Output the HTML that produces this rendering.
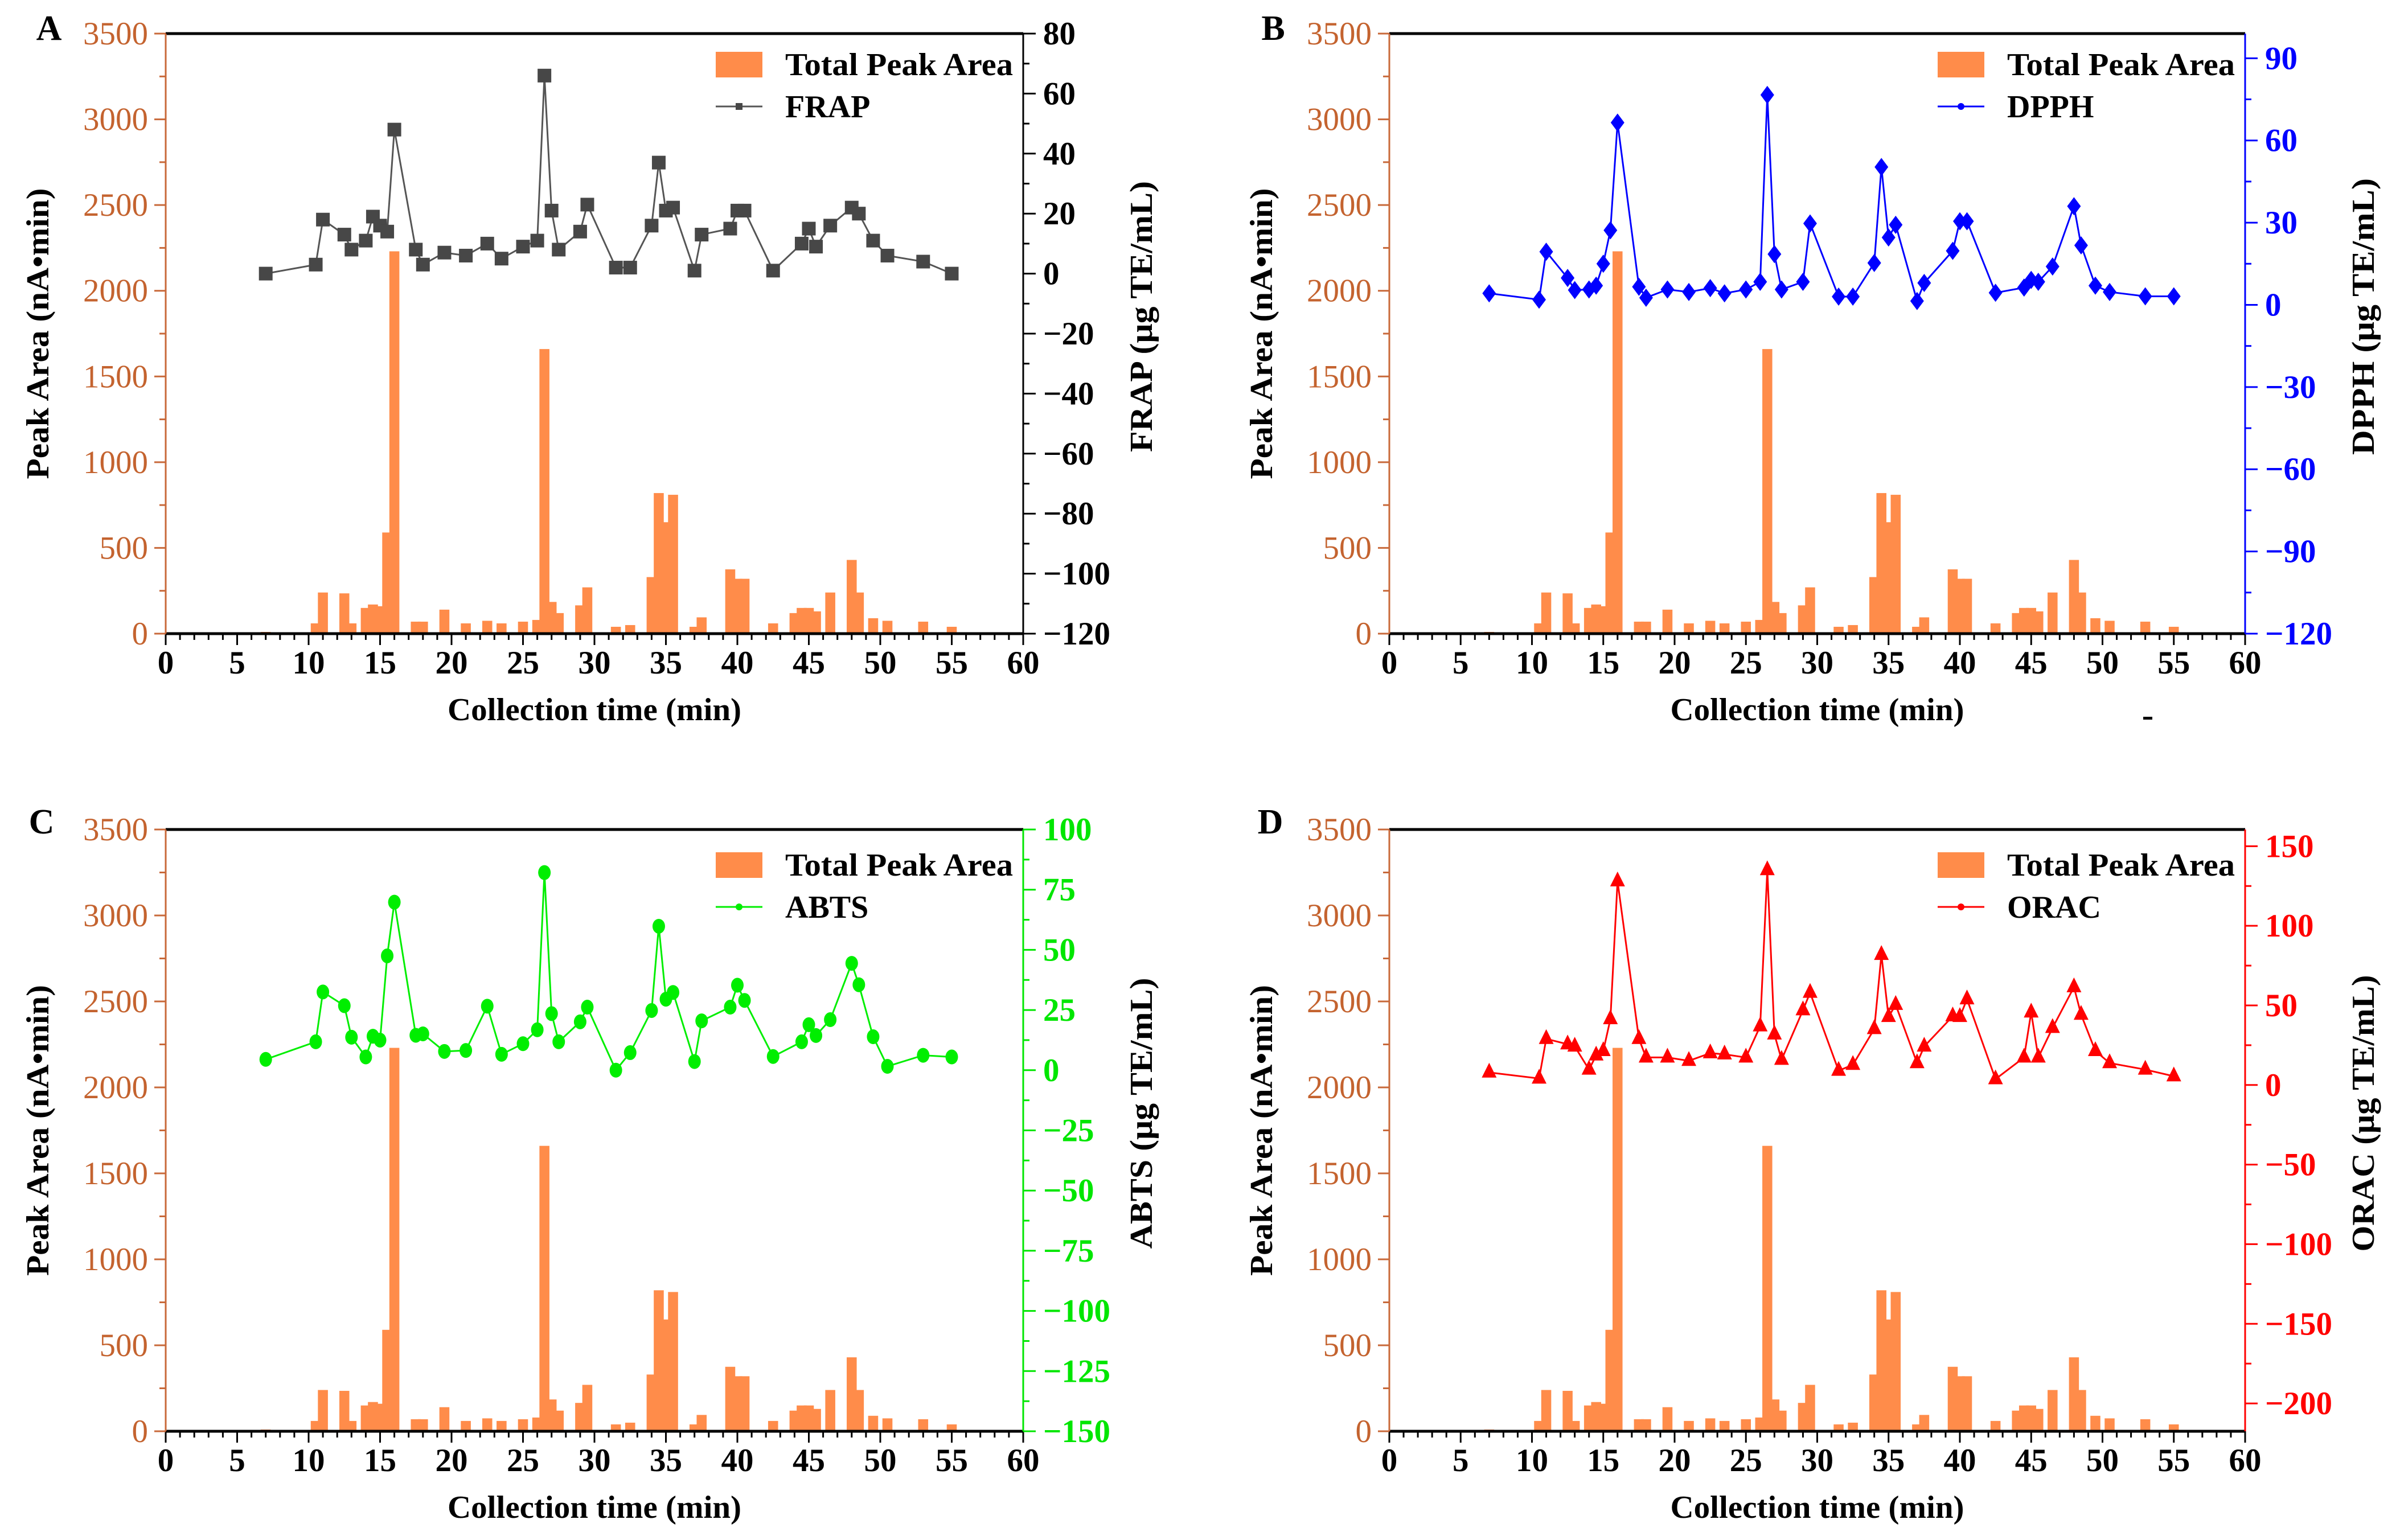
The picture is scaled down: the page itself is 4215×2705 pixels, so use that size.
<!DOCTYPE html>
<html><head><meta charset="utf-8"><style>
html,body{margin:0;padding:0;background:#fff;}
svg{display:block;}
text{font-family:"Liberation Serif",serif;}
</style></head>
<body>
<svg id="fig" width="4215" height="2705" viewBox="0 0 4215 2705" xmlns="http://www.w3.org/2000/svg"></svg>
<script>
// Shared bar data (collection time, total peak area)
const times = [7,10.5,11,12.5,13,14,14.5,15,15.5,16,17.5,18,19.5,21,22.5,23.5,25,26,26.5,27,27.5,29,29.5,31.5,32.5,34,34.5,35,35.5,37,37.5,39.5,40,40.5,42.5,44,44.5,45,45.5,46.5,48,48.5,49.5,50.5,53,55];
const peakArea = [10,60,240,235,60,150,170,160,590,2230,70,70,140,60,75,60,70,80,1660,185,120,165,270,40,50,330,820,650,810,40,95,375,320,320,60,120,150,150,130,240,430,240,90,75,70,40];
// Assay sampling times
const assayTimes = [7,10.5,11,12.5,13,14,14.5,15,15.5,16,17.5,18,19.5,21,22.5,23.5,25,26,26.5,27,27.5,29,29.5,31.5,32.5,34,34.5,35,35.5,37,37.5,39.5,40,40.5,42.5,44.5,45,45.5,46.5,48,48.5,49.5,50.5,53,55];
const frap = [0,3,18,13,8,11,19,16,14,48,8,3,7,6,10,5,9,11,66,21,8,14,23,2,2,16,37,21,22,1,13,15,21,21,1,10,15,9,16,22,20,11,6,4,0];
const dpph = [4.2,1.9,19.4,9.8,5.4,5.6,7,15,27.2,66.5,6.6,2.6,5.6,4.7,6.1,4.2,5.6,8.4,76.6,18.5,5.6,8.4,29.7,3,3,15.3,50.3,24.6,29.2,1.4,8,19.7,30.5,30.5,4.4,6.3,9.1,8.4,14,36,21.7,7,4.7,3.1,3.1];
const abts = [4.5,11.8,32.5,26.8,13.7,5.5,14.1,12.5,47.5,69.8,14.5,15.1,7.8,8.2,26.6,6.6,11,16.8,82.1,23.5,11.8,20.1,26.2,0,7.3,24.8,59.8,29.5,32.3,3.6,20.5,26.2,35.3,29,5.7,11.8,18.9,14.4,21,44.4,35.5,13.9,1.6,6.2,5.5];
const orac = [7.9,4.1,29,25.6,24.2,9.7,18.6,21.4,41.4,128,29,17.3,17.3,15.2,20,19.3,17.3,36.9,135,31.8,15.9,47,58,9,12.7,35.2,81.8,42.8,50.4,13.8,24.2,43.2,42.8,53.9,3.7,17.3,45.6,17.3,35.9,61.5,44.2,21.4,13.8,9.7,5.5];
// Tick labels
const xTicks = [0,5,10,15,20,25,30,35,40,45,50,55,60];
const leftTicks = [0,500,1000,1500,2000,2500,3000,3500];
const frapTicks = [-120,-100,-80,-60,-40,-20,0,20,40,60,80];
const dpphTicks = [-120,-90,-60,-30,0,30,60,90];
const abtsTicks = [-150,-125,-100,-75,-50,-25,0,25,50,75,100];
const oracTicks = [-200,-150,-100,-50,0,50,100,150];

const NS = "http://www.w3.org/2000/svg";
const svg = document.getElementById('fig');
function mk(tag, attrs, parent){
  const e = document.createElementNS(NS, tag);
  for (const k in attrs) e.setAttribute(k, attrs[k]);
  (parent||svg).appendChild(e);
  return e;
}
const ORANGE_TXT = '#c4632f', ORANGE_AX = '#c8693a', BAR = '#ff8c4a';

function marker(g, shape, cx, cy, color){
  let m;
  if (shape === 'square') m = mk('rect',{x:cx-12,y:cy-12,width:24,height:24,fill:color},g);
  else if (shape === 'diamond') m = mk('polygon',{points:`${cx},${cy-16} ${cx+12},${cy} ${cx},${cy+16} ${cx-12},${cy}`,fill:color},g);
  else if (shape === 'circle') m = mk('ellipse',{cx:cx,cy:cy,rx:11,ry:13,fill:color},g);
  else m = mk('polygon',{points:`${cx},${cy-17} ${cx+13},${cy+9} ${cx-13},${cy+9}`,fill:color},g);
  return m;
}

function panel(p){
  const g = mk('g',{});
  
  
  const L=p.left,R=p.right,T=p.top,B=p.bottom;
  const xs = t => L + (t/60)*(R-L);
  const yl = v => B - (v/3500)*(B-T);
  const yr = v => B - (v-p.min)/(p.max-p.min)*(B-T);

  // bars
  const bw = 0.7*(R-L)/60;
  for (let i=0;i<times.length;i++){
    const b = mk('rect',{x:xs(times[i])-bw/2,y:yl(peakArea[i]),width:bw,height:B-yl(peakArea[i]),fill:BAR},g);
    
    
  }
  // series line
  const pts = assayTimes.map((t,i)=>xs(t)+','+yr(p.vals[i])).join(' ');
  const ln = mk('polyline',{points:pts,fill:'none',stroke:p.line,'stroke-width':3},g);
  
  
  for (let i=0;i<assayTimes.length;i++){
    const m = marker(g,p.shape,xs(assayTimes[i]),yr(p.vals[i]),p.mcolor);
    
    
  }
  // frame
  mk('line',{x1:L,y1:T,x2:R,y2:T,stroke:'#000','stroke-width':5},g);
  mk('line',{x1:L,y1:B,x2:R,y2:B,stroke:'#000','stroke-width':5},g);
  mk('line',{x1:L,y1:T,x2:L,y2:B,stroke:ORANGE_AX,'stroke-width':3},g);
  mk('line',{x1:R,y1:T,x2:R,y2:B,stroke:p.color,'stroke-width':3},g);
  // x ticks
  for (let t=0;t<=60;t++){
    const major = t%5===0;
    mk('line',{x1:xs(t),y1:B,x2:xs(t),y2:B+(major?20:11),stroke:'#000','stroke-width':3},g);
  }
  xTicks.forEach(t=>{
    const tx = mk('text',{x:xs(t),y:B+70,'text-anchor':'middle','font-size':57,'font-weight':'bold',fill:'#000'},g);
    tx.textContent = t;
    
    
  });
  const xt = mk('text',{x:(L+R)/2,y:B+152,'text-anchor':'middle','font-size':56,'font-weight':'bold',fill:'#000',textLength:516,lengthAdjust:'spacingAndGlyphs'},g);
  xt.textContent = 'Collection time (min)';
  
  
  // left ticks
  for (let v=0; v<=3500; v+=250){
    const major = v%500===0;
    mk('line',{x1:L-(major?20:11),y1:yl(v),x2:L,y2:yl(v),stroke:ORANGE_AX,'stroke-width':3},g);
  }
  leftTicks.forEach(v=>{
    const tx = mk('text',{x:L-31,y:yl(v)+19,'text-anchor':'end','font-size':57,fill:ORANGE_TXT},g);
    tx.textContent = v;
    
    
  });
  const lt = mk('text',{x:0,y:0,'text-anchor':'middle','font-size':56,'font-weight':'bold',fill:'#000',transform:`translate(${L-206},${(T+B)/2}) rotate(-90)`,textLength:511,lengthAdjust:'spacingAndGlyphs'},g);
  lt.textContent = 'Peak Area (nA•min)';
  
  
  // right ticks
  const half = p.step/2;
  for (let v=p.ticks[0]; v<=p.max+1e-6; v+=half){
    const major = Math.abs(((v-p.ticks[0])/p.step) - Math.round((v-p.ticks[0])/p.step))<1e-6;
    mk('line',{x1:R,y1:yr(v),x2:R+(major?22:11),y2:yr(v),stroke:p.color,'stroke-width':3},g);
  }
  for (let v=p.ticks[0]-half; v>=p.min-1e-6; v-=half){
    mk('line',{x1:R,y1:yr(v),x2:R+11,y2:yr(v),stroke:p.color,'stroke-width':3},g);
  }
  p.ticks.forEach(v=>{
    const tx = mk('text',{x:R+35,y:yr(v)+19,'font-size':57,'font-weight':'bold',fill:p.color},g);
    tx.textContent = v<0 ? '\u2212'+Math.abs(v) : v;
    
    
  });
  const rt = mk('text',{x:0,y:0,'text-anchor':'middle','font-size':56,'font-weight':'bold',fill:'#000',transform:`translate(${R+226},${(T+B)/2-30}) rotate(-90)`,textLength:p.titleLen,lengthAdjust:'spacingAndGlyphs'},g);
  rt.textContent = p.name + ' (μg TE/mL)';
  
  
  // legend
  const lg = mk('g',{},g);
  
  
  const dy = p.legDy;
  mk('rect',{x:R-540,y:T+32+dy,width:82,height:45,fill:BAR},lg);
  const l1 = mk('text',{x:R-418,y:T+73+dy,'font-size':56,'font-weight':'bold',fill:'#000',textLength:400,lengthAdjust:'spacingAndGlyphs'},lg);
  l1.textContent = 'Total Peak Area';
  
  
  mk('line',{x1:R-540,y1:T+128+dy,x2:R-458,y2:T+128+dy,stroke:p.line,'stroke-width':3},lg);
  const lm = p.shape==='square' ? mk('rect',{x:R-505,y:T+122+dy,width:12,height:12,fill:p.mcolor},lg)
    : mk('circle',{cx:R-499,cy:T+128+dy,r:6,fill:p.mcolor},lg);
  const l2 = mk('text',{x:R-418,y:T+147+dy,'font-size':56,'font-weight':'bold',fill:'#000'},lg);
  l2.textContent = p.name;
  
  
  // panel letter
  const pl = mk('text',{x:p.lx,y:p.ly,'text-anchor':'middle','font-size':62,'font-weight':'bold',fill:'#000'},g);
  pl.textContent = p.letter;
  
  
}

panel({letter:'A',lx:86,ly:70,left:291,right:1797,top:59,bottom:1113,min:-120,max:80,step:20,ticks:frapTicks,vals:frap,name:'FRAP',color:'#000',line:'#555',mcolor:'#474747',shape:'square',titleLen:476,legDy:0});
panel({letter:'B',lx:2236,ly:70,left:2440,right:3943,top:59,bottom:1113,min:-120,max:99,step:30,ticks:dpphTicks,vals:dpph,name:'DPPH',color:'#0000ff',line:'#0000ff',mcolor:'#0000ff',shape:'diamond',titleLen:486,legDy:0});
panel({letter:'C',lx:73,ly:1464,left:291,right:1797,top:1457,bottom:2514,min:-150,max:100,step:25,ticks:abtsTicks,vals:abts,name:'ABTS',color:'#00e600',line:'#00ee00',mcolor:'#00ee00',shape:'circle',titleLen:476,legDy:8});
panel({letter:'D',lx:2231,ly:1464,left:2440,right:3943,top:1457,bottom:2514,min:-217.5,max:160.5,step:50,ticks:oracTicks,vals:orac,name:'ORAC',color:'#ff0000',line:'#ff0000',mcolor:'#ff0000',shape:'triangle',titleLen:486,legDy:8});

const dash = mk('rect',{x:3764,y:1259,width:16,height:5,fill:'#000'});


</script>
</body></html>
